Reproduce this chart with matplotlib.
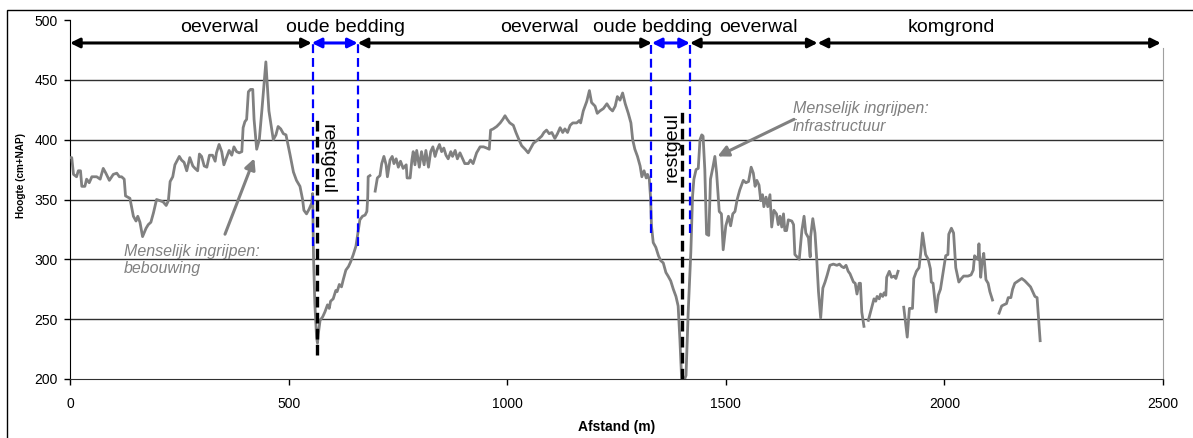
import numpy as np
import matplotlib
matplotlib.use('Agg')
import matplotlib.pyplot as plt
from matplotlib.patches import Rectangle

plt.rcParams['font.family'] = ['Liberation Sans', 'DejaVu Sans']

nan = float('nan')

# ---------------- data ----------------
dist = [0, 4, 8, 15, 19, 24, 27, 34, 38, 44, 50, 61, 69, 76, 82, 90, 99, 107, 113, 118,
        124, 127, 137, 145, 151, 155, 160, 166, 174, 179, 185, 191, 198, 206, 213, 220,
        225, 229, 235, 240, 250, 255, 261, 267, 274, 281, 286, 292, 296, 301, 307, 313,
        319, 326, 332, 335, 341, 347, 352, 358, 364, 370, 375, 381, 387, 393, 396, 400,
        404, 408, 413, 418, 421, 427, 433, 439, 448, 455, 465, 471, 476, 482, 488, 494,
        503, 511, 518, 526, 532, 535, 541, 547, 553, 555, 557, 560, 564, 566, 568, 572,
        578, 583, 589, 593, 596, 602, 608, 611, 616, 621, 625, 631, 637, 642, 648, 654,
        659, 663, 669, 675, 679, 681, 682, 686, 690,
        698, 703, 709, 713, 718, 723, 726, 732, 737, 741, 746, 751, 756, 762, 769, 771,
        778, 782, 785, 789, 793, 799, 804, 810, 814, 820, 825, 830, 835, 839, 845, 850,
        855, 860, 865, 871, 875, 881, 886, 892, 898, 903, 911, 916, 922, 930, 938,
        946, 953, 959, 962, 968, 976, 984, 990, 995, 1000, 1006, 1014, 1020, 1028, 1033,
        1041, 1048, 1054, 1060, 1067, 1073, 1079, 1084, 1090, 1096, 1102, 1109, 1115,
        1121, 1127, 1132, 1138, 1144, 1150, 1159, 1165, 1168, 1174, 1182, 1188, 1193,
        1201, 1206, 1212, 1220, 1228, 1235, 1241, 1247, 1252, 1258, 1264, 1270, 1277,
        1283, 1287, 1292, 1298, 1304, 1308, 1313, 1318, 1321, 1325, 1328, 1330, 1334,
        1340, 1346, 1351, 1357, 1363, 1368, 1374, 1380, 1386, 1391, 1395, 1399, 1406,
        1409, 1414, 1420, 1424, 1427, 1432, 1437, 1441, 1445, 1448, 1452, 1456, 1461,
        1465, 1470, 1475, 1479, 1485, 1490, 1494, 1500, 1506, 1511, 1516, 1521, 1526,
        1532, 1540, 1546, 1552, 1558, 1563, 1567, 1571, 1576, 1580, 1584, 1587, 1592,
        1596, 1601, 1605, 1610, 1616, 1620, 1624, 1628, 1632, 1635, 1639, 1643, 1651,
        1655, 1658, 1668, 1674, 1679, 1683, 1689, 1693, 1694, 1699, 1704, 1708, 1712,
        1717, 1722, 1727, 1732, 1738, 1746, 1754, 1760, 1765, 1770, 1775, 1780, 1784,
        1792, 1796, 1800, 1805, 1808, 1811, 1816, 1821,
        1826, 1831, 1839, 1843, 1846, 1851, 1854, 1859, 1862, 1866, 1868, 1874, 1879,
        1885, 1889, 1894, 1900,
        1907, 1915, 1920, 1927, 1930, 1936, 1942, 1946, 1950, 1957, 1963, 1968, 1970,
        1974, 1981, 1986, 1991, 1997, 2003, 2008, 2010, 2016, 2021, 2026, 2033, 2039,
        2044, 2054, 2061, 2066, 2069, 2073, 2077, 2079, 2083, 2086, 2090, 2095, 2100,
        2104, 2110, 2117,
        2125, 2131, 2136, 2142, 2146, 2152, 2156, 2161, 2169, 2177, 2184, 2192, 2197,
        2202, 2207, 2212, 2219]

height = [385, 385, 371, 369, 374, 374, 361, 361, 367, 364, 369, 369, 367, 376, 372, 366, 371, 372, 369, 369,
          367, 353, 351, 336, 332, 336, 331, 319, 326, 329, 331, 339, 350, 349, 348, 345,
          349, 365, 369, 379, 386, 383, 381, 374, 385, 378, 376, 374, 388, 386, 378, 377,
          387, 387, 382, 389, 396, 390, 379, 385, 391, 387, 394, 390, 389, 390, 410, 415,
          417, 440, 442, 442, 417, 392, 400, 425, 465, 424, 400, 404, 411, 409, 405, 404,
          388, 373, 366, 361, 350, 341, 338, 342, 347, 355, 302, 263, 235, 230, 238, 249,
          252, 256, 262, 259, 265, 267, 274, 273, 279, 277, 283, 291, 294, 298, 304, 311,
          323, 333, 336, 337, 340, 352, 369, 370, nan,
          357, 368, 370, 380, 386, 379, 369, 383, 386, 380, 384, 377, 382, 376, 379, 368,
          368, 383, 390, 379, 391, 377, 390, 379, 391, 377, 390, 394, 386, 391, 396, 390,
          393, 387, 384, 390, 386, 391, 384, 389, 384, 380, 380, 383, 380, 389, 394,
          394, 393, 392, 408, 409, 411, 414, 417, 420, 417, 414, 412, 406, 399, 395,
          392, 389, 393, 397, 399, 401, 403, 406, 408, 405, 406, 401, 405,
          410, 406, 409, 406, 412, 414, 414, 416, 414, 424, 432, 441, 431,
          428, 422, 424, 426, 430, 426, 424, 428, 436, 433, 439, 430, 422,
          414, 400, 392, 386, 378, 369, 374, 368, 371, 367, 351, 328, 314,
          310, 303, 299, 297, 289, 286, 282, 275, 269, 261, 233, 200, 200,
          203, 256, 306, 353, 367, 375, 376, 400, 404, 403, 375, 321, 320,
          367, 376, 386, 372, 340, 338, 308, 328, 336, 328, 338, 340, 350,
          358, 366, 364, 365, 377, 372, 361, 366, 362, 349, 354, 344, 352,
          344, 354, 327, 341, 338, 329, 336, 327, 338, 324, 324, 333, 332,
          329, 304, 300, 324, 336, 322, 318, 302, 319, 334, 322, 300, 273,
          251, 276, 281, 287, 295, 296, 295, 296, 294, 293, 295, 290, 288,
          281, 280, 271, 280, 280, 256, 244, nan,
          249, 256, 267, 265, 269, 267, 271, 269, 272, 270, 285, 290, 285,
          286, 284, 290, nan,
          260, 235, 259, 259, 284, 290, 293, 306, 322, 304, 300, 292, 281,
          280, 256, 270, 275, 289, 303, 304, 321, 326, 322, 293, 281, 284,
          286, 286, 287, 291, 303, 301, 300, 313, 285, 297, 305, 283, 280,
          273, 266, nan,
          255, 261, 262, 263, 268, 268, 275, 280, 282, 284, 282, 279, 277,
          273, 269, 268, 232]

zone_labels = ['oeverwal', 'oude bedding', 'oeverwal', 'oude bedding', 'oeverwal', 'komgrond']
zone_label_x = [342, 630, 1073, 1333, 1575, 2015]
zone_start = [0, 553, 658, 1331, 1418, 1710]
zone_end = [553, 658, 1331, 1418, 1710, 2495]
zone_color = ['black', 'blue', 'black', 'blue', 'black', 'black']

bedding_edges = [555, 658, 1330, 1417]
bedding_bottom = [311, 311, 322, 322]

restgeul_x = [566, 1399]
restgeul_bottom = [220, 200]
restgeul_top = [418, 425]
restgeul_text_x = [587, 1378]
restgeul_text_y = [384, 394]
restgeul_rot = [270, 90]

x_ticks = [0, 500, 1000, 1500, 2000, 2500]
y_ticks = [200, 250, 300, 350, 400, 450, 500]

# ---------------- figure ----------------
W, H = 1193, 438
fig = plt.figure(figsize=(W / 100, H / 100), dpi=100)
fig.patch.set_facecolor('white')
ax = fig.add_axes([70 / W, 59 / H, 1093 / W, 359 / H])

ax.set_xlim(0, 2500)
ax.set_ylim(200, 500)

for yv in [250, 300, 350, 400, 450]:
    ax.axhline(yv, color='#303030', lw=1.0, zorder=1)

ax.plot(dist, height, color='#808080', lw=2.0, zorder=3)

# blue dashed bedding edges
for xe, yb in zip(bedding_edges, bedding_bottom):
    ax.plot([xe, xe], [yb, 481], color='blue', lw=1.6, ls=(0, (4, 2.2)), zorder=4)

# restgeul black dashed
for xr, yb, yt in zip(restgeul_x, restgeul_bottom, restgeul_top):
    ax.plot([xr, xr], [yb, yt], color='black', lw=2.4, ls=(0, (3.2, 1.6)), zorder=5,
            solid_capstyle='butt')

for tx, ty, rot in zip(restgeul_text_x, restgeul_text_y, restgeul_rot):
    ax.text(tx, ty, 'restgeul', rotation=rot, fontsize=14, ha='center', va='center',
            zorder=6)

# zone arrows
for x0, x1, c in zip(zone_start, zone_end, zone_color):
    ax.annotate('', xy=(x1, 480.8), xytext=(x0, 480.8),
                arrowprops=dict(arrowstyle='<|-|>', color=c, lw=2.2,
                                mutation_scale=14, shrinkA=0, shrinkB=0),
                annotation_clip=False, zorder=6)

for lab, lx in zip(zone_labels, zone_label_x):
    ax.text(lx, 490, lab, fontsize=14, ha='center', va='baseline', clip_on=False)

# annotations
ax.annotate('', xy=(421.6, 384.4), xytext=(354.5, 321),
            arrowprops=dict(arrowstyle='-|>', color='#808080', lw=2.2,
                            mutation_scale=16, shrinkA=0, shrinkB=0), zorder=6)
ax.text(123.5, 299.4, 'Menselijk ingrijpen:\nbebouwing', fontsize=11.5, style='italic',
        color='#808080', ha='left', va='center', linespacing=1.2)

ax.annotate('', xy=(1481, 386), xytext=(1656, 417),
            arrowprops=dict(arrowstyle='-|>', color='#808080', lw=2.2,
                            mutation_scale=16, shrinkA=0, shrinkB=0), zorder=6)
ax.text(1654, 418.5, 'Menselijk ingrijpen:\ninfrastructuur', fontsize=11.5, style='italic',
        color='#808080', ha='left', va='center', linespacing=1.2)

# axes styling
ax.spines['top'].set_visible(False)
ax.spines['right'].set_color('#a0a0a0')
ax.spines['right'].set_bounds(200, 477)
ax.spines['left'].set_color('black')
ax.spines['bottom'].set_color('#303030')
ax.set_xticks(x_ticks)
ax.set_yticks(y_ticks)
ax.tick_params(axis='both', direction='out', length=4, width=1, labelsize=10, colors='black')
ax.tick_params(axis='y', pad=5)
ax.tick_params(axis='x', pad=9)

ax.set_xlabel('Afstand (m)', fontsize=10, fontweight='bold')
ax.xaxis.set_label_coords(0.5, -0.134)
ax.xaxis.label.set_va('center')
ax.set_ylabel('Hoogte (cm+NAP)', fontsize=7.2, fontweight='bold')
ax.yaxis.set_label_coords(-0.0448, 0.568)
ax.yaxis.label.set_va('center')

# figure border
fig.patches.append(Rectangle((7 / W, -0.1), 1.2, (H - 10) / H + 0.1, transform=fig.transFigure,
                             fill=False, ec='black', lw=1.0))

fig.savefig('out.png', dpi=100)
